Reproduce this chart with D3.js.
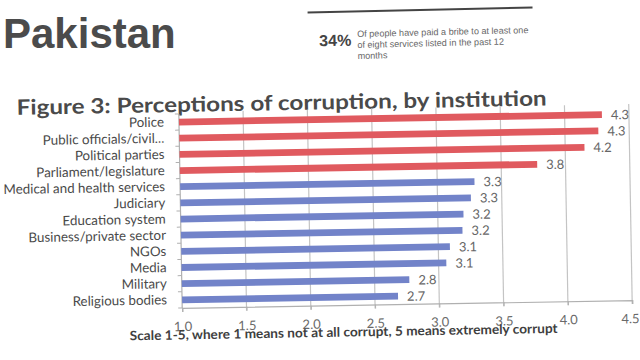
<!DOCTYPE html>
<html>
<head>
<meta charset="utf-8">
<script src="https://cdn.jsdelivr.net/npm/d3@7"></script>
<style>
  html, body { margin: 0; padding: 0; background: #fff; }
  svg { display: block; }
</style>
</head>
<body>
<svg width="640" height="360"></svg>
<script>
const categories = [
  "Police", "Public officials/civil...", "Political parties", "Parliament/legislature",
  "Medical and health services", "Judiciary", "Education system", "Business/private sector",
  "NGOs", "Media", "Military", "Religious bodies"
]
const values = [4.29, 4.26, 4.15, 3.78, 3.29, 3.26, 3.2, 3.19, 3.09, 3.06, 2.77, 2.68]
const tiers = ["high", "high", "high", "high", "low", "low", "low", "low", "low", "low", "low", "low"]
const tickValues = [1.0, 1.5, 2.0, 2.5, 3.0, 3.5, 4.0, 4.5]

const headline = "Pakistan"
const statValue = "34%"
const statLines = ["Of people have paid a bribe to at least one", "of eight services listed in the past 12", "months"]
const figureTitle = "Figure 3: Perceptions of corruption, by institution"
const axisTitle = "Scale 1-5, where 1 means not at all corrupt, 5 means extremely corrupt"

const TIER_COLOR = { high: "#e05a5f", low: "#7283c9" }
const FONT = "Lato, 'Open Sans', sans-serif"
const [LEFT, RIGHT, TOP, BOTTOM] = [180, 630, 111.5, 305.5]

const svg = d3.select("svg")

// Header
svg.append("text")
  .attr("x", 3).attr("y", 48)
  .attr("font-family", "'Liberation Sans', Arial, sans-serif")
  .attr("font-weight", "bold")
  .attr("font-size", 42)
  .attr("fill", "#4b4b4b")
  .text(headline)

const stat = svg.append("g").attr("transform", "rotate(-1.3, 420, 30)")
stat.append("line")
  .attr("x1", 308).attr("x2", 533).attr("y1", 10).attr("y2", 10)
  .attr("stroke", "#444").attr("stroke-width", 2)
stat.append("text")
  .attr("x", 319).attr("y", 44)
  .attr("font-family", "'Liberation Sans', Arial, sans-serif")
  .attr("font-weight", "bold").attr("font-size", 16)
  .attr("fill", "#444")
  .text(statValue)
stat.selectAll("text.stat-line")
  .data(statLines)
  .enter()
  .append("text")
  .classed("stat-line", true)
  .attr("x", 357)
  .attr("y", (d, i) => 35.5 + i * 11)
  .attr("font-family", "'Liberation Sans', Arial, sans-serif")
  .attr("font-size", 9.1)
  .attr("fill", "#666")
  .text((d) => d)

// Chart, slightly tilted like the scan
const chart = svg.append("g").attr("transform", "rotate(-1, 320, 180)")

const x = d3.scaleLinear().domain([1, 4.5]).range([LEFT, RIGHT])
const y = d3.scaleBand().domain(categories).range([TOP, BOTTOM]).paddingInner(0.58).paddingOuter(0.29)

chart.append("text")
  .attr("x", 18).attr("y", 109.5)
  .attr("font-family", FONT)
  .attr("font-weight", "bold")
  .attr("font-size", 21)
  .attr("fill", "#4a4a4a")
  .attr("textLength", 530)
  .attr("lengthAdjust", "spacingAndGlyphs")
  .text(figureTitle)

// Gridlines
chart.append("g")
  .selectAll("line")
  .data(tickValues.slice(1))
  .enter()
  .append("line")
  .attr("x1", (d) => x(d)).attr("x2", (d) => x(d))
  .attr("y1", TOP - 2).attr("y2", BOTTOM + 4)
  .attr("stroke", "#c4c4c4").attr("stroke-width", 1.2)

// Bottom axis
const xAxis = chart.append("g")
  .attr("transform", `translate(0, ${BOTTOM})`)
  .call(d3.axisBottom(x).tickValues(tickValues).tickFormat(d3.format(".1f")).tickSize(4).tickPadding(10))
xAxis.select(".domain").attr("stroke", "#b0b0b0").attr("stroke-width", 1.2)
xAxis.selectAll(".tick line").attr("stroke", "#b0b0b0")
xAxis.selectAll(".tick text")
  .attr("font-family", FONT).attr("font-size", 13).attr("fill", "#6a6a6a")
xAxis.select(".tick:last-of-type text").attr("dx", "-0.2em")

// Left axis
const yAxis = chart.append("g")
  .attr("transform", `translate(${LEFT}, 0)`)
  .call(d3.axisLeft(y).tickSize(0).tickPadding(15))
yAxis.select(".domain").remove()
yAxis.selectAll(".tick text")
  .attr("font-family", FONT).attr("font-size", 13.4).attr("fill", "#4a4a4a")
chart.append("line")
  .attr("x1", LEFT).attr("x2", LEFT).attr("y1", TOP).attr("y2", BOTTOM)
  .attr("stroke", "#b0b0b0").attr("stroke-width", 1.2)
chart.append("g")
  .selectAll("line")
  .data(d3.range(categories.length + 1))
  .enter()
  .append("line")
  .attr("x1", LEFT - 4).attr("x2", LEFT)
  .attr("y1", (i) => TOP + i * (BOTTOM - TOP) / categories.length)
  .attr("y2", (i) => TOP + i * (BOTTOM - TOP) / categories.length)
  .attr("stroke", "#b0b0b0")

// Bars
chart.append("g")
  .selectAll("rect")
  .data(categories)
  .enter()
  .append("rect")
  .attr("x", x(1))
  .attr("y", (d) => y(d))
  .attr("width", (d, i) => x(values[i]) - x(1))
  .attr("height", y.bandwidth())
  .attr("fill", (d, i) => TIER_COLOR[tiers[i]])

// Value labels
chart.append("g")
  .selectAll("text")
  .data(categories)
  .enter()
  .append("text")
  .attr("x", (d, i) => x(values[i]) + 9)
  .attr("y", (d) => y(d) + y.bandwidth() / 2)
  .attr("dy", "0.38em")
  .attr("font-family", FONT).attr("font-size", 13).attr("fill", "#666")
  .text((d, i) => d3.format(".1f")(values[i]))

chart.append("text")
  .attr("x", 127).attr("y", 337)
  .attr("font-family", FONT)
  .attr("font-weight", "bold")
  .attr("font-size", 13)
  .attr("fill", "#3f3f3f")
  .attr("textLength", 428)
  .attr("lengthAdjust", "spacingAndGlyphs")
  .text(axisTitle)
</script>
</body>
</html>
